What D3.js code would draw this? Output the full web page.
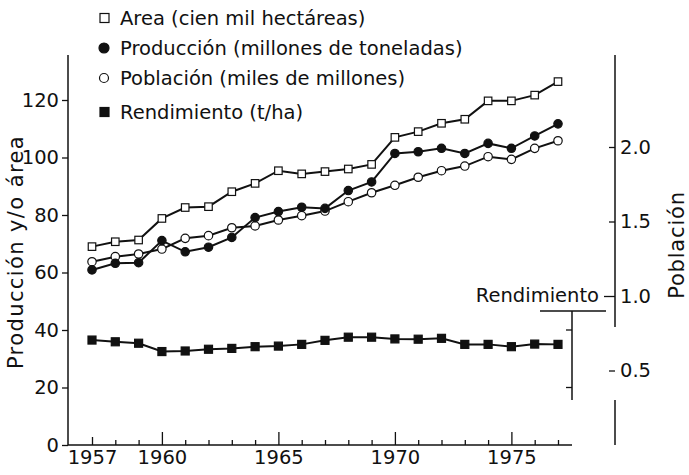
<!DOCTYPE html>
<html>
<head>
<meta charset="utf-8">
<script src="https://cdn.jsdelivr.net/npm/d3@7"></script>
<style>
  body { margin: 0; background: #fff; }
  svg text { font-family: "DejaVu Sans", sans-serif; fill: #111; }
</style>
</head>
<body>
<div id="chart"></div>
<script>
// --- Data ---
const years = d3.range(1957, 1978);
const area = [69.0, 70.7, 71.3, 78.8, 82.6, 82.9, 88.1, 91.0, 95.4, 94.3, 95.1,
  96.0, 97.6, 107.0, 109.0, 111.9, 113.3, 119.7, 119.7, 121.7, 126.4];
const produccion = [60.9, 63.2, 63.4, 71.1, 67.2, 68.8, 72.2, 79.1, 81.2, 82.7, 82.3,
  88.5, 91.5, 101.4, 102.0, 103.2, 101.4, 104.9, 103.2, 107.5, 111.7];
const poblacion = [1.23, 1.264, 1.282, 1.315, 1.387, 1.405, 1.458, 1.47, 1.51, 1.539, 1.57,
  1.633, 1.693, 1.743, 1.797, 1.841, 1.872, 1.935, 1.917, 1.991, 2.042];
// yield drawn in left-axis units
const rendimiento = [36.5, 35.9, 35.4, 32.5, 32.7, 33.3, 33.6, 34.2, 34.4, 35.0, 36.4,
  37.5, 37.5, 36.9, 36.8, 37.1, 35.0, 35.0, 34.2, 35.1, 35.0];

const leftTicks = [0, 20, 40, 60, 80, 100, 120];
const rightTicks = [0.5, 1.0, 1.5, 2.0];
const yearLabels = [1957, 1960, 1965, 1970, 1975];
const majorYears = [1960, 1965, 1970, 1975];
const rendTicks = [20, 40];

const legendItems = [
  { label: "Area (cien mil hectáreas)", shape: "square", filled: false },
  { label: "Producción (millones de toneladas)", shape: "circle", filled: true },
  { label: "Población (miles de millones)", shape: "circle", filled: false },
  { label: "Rendimiento (t/ha)", shape: "square", filled: true }
];

// --- Setup ---
const width = 689, height = 475;
const svg = d3.select("#chart").append("svg")
  .attr("width", width)
  .attr("height", height);

const x = d3.scaleLinear().domain([1957, 1977]).range([92, 558]);
const yL = d3.scaleLinear().domain([0, 120]).range([445, 100]);
const yR = d3.scaleLinear().domain([0, 2]).range([445, 147]);

const ink = "#111";
const tickFont = 19.5;

// --- Axes ---
// left axis
const leftAxis = svg.append("g")
  .attr("transform", "translate(68,0)")
  .call(d3.axisLeft(yL).tickValues(leftTicks).tickSize(6).tickPadding(3));
leftAxis.select(".domain").remove();
leftAxis.selectAll("line").attr("stroke", ink).attr("stroke-width", 1.3);
leftAxis.selectAll("text").attr("font-size", tickFont).style("font-family", "DejaVu Sans");
svg.append("line")
  .attr("x1", 68).attr("x2", 68)
  .attr("y1", 55).attr("y2", 445)
  .attr("stroke", ink).attr("stroke-width", 1.5);

// bottom axis
const bottomAxis = svg.append("g")
  .attr("transform", "translate(0,445)")
  .call(d3.axisBottom(x).tickValues(years)
    .tickSize(-5).tickPadding(5)
    .tickFormat(d => yearLabels.includes(d) ? d : ""));
bottomAxis.select(".domain").remove();
bottomAxis.selectAll(".tick line")
  .attr("stroke", ink).attr("stroke-width", 1.3)
  .attr("y2", d => majorYears.includes(d) ? -13 : (d === 1957 ? -8 : -5));
bottomAxis.selectAll("text").attr("font-size", tickFont).style("font-family", "DejaVu Sans");
svg.append("line")
  .attr("x1", 68).attr("x2", 572)
  .attr("y1", 445).attr("y2", 445)
  .attr("stroke", ink).attr("stroke-width", 1.5);

// right axis (population)
const rightAxis = svg.append("g")
  .attr("transform", "translate(615,0)")
  .call(d3.axisRight(yR).tickValues(rightTicks)
    .tickSize(-6).tickPadding(5)
    .tickFormat(d3.format(".1f")));
rightAxis.select(".domain").remove();
rightAxis.selectAll(".tick line")
  .attr("stroke", ink).attr("stroke-width", 1.3)
  .attr("x2", d => d === 1.0 ? -11 : -6);
rightAxis.selectAll("text").attr("font-size", tickFont).style("font-family", "DejaVu Sans");
[[55, 327], [400, 445]].forEach(([a, b]) => {
  svg.append("line")
    .attr("x1", 615).attr("x2", 615)
    .attr("y1", a).attr("y2", b)
    .attr("stroke", ink).attr("stroke-width", 1.5);
});

// yield sub-axis
svg.append("line")
  .attr("x1", 540).attr("x2", 606)
  .attr("y1", 311).attr("y2", 311)
  .attr("stroke", ink).attr("stroke-width", 1.5);
svg.append("line")
  .attr("x1", 572).attr("x2", 572)
  .attr("y1", 311).attr("y2", 400)
  .attr("stroke", ink).attr("stroke-width", 1.5);
svg.selectAll(".rend-tick")
  .data(rendTicks)
  .enter().append("line")
  .attr("class", "rend-tick")
  .attr("x1", 566).attr("x2", 572)
  .attr("y1", d => yL(d)).attr("y2", d => yL(d))
  .attr("stroke", ink).attr("stroke-width", 1.3);
svg.append("text")
  .attr("x", 599).attr("y", 302)
  .attr("text-anchor", "end")
  .attr("font-size", 19.5)
  .text("Rendimiento");

// axis titles
svg.append("text")
  .attr("transform", "translate(23,252) rotate(-90)")
  .attr("text-anchor", "middle")
  .attr("font-size", 21)
  .attr("letter-spacing", 1.4)
  .text("Producción y/o área");
svg.append("text")
  .attr("transform", "translate(684,245) rotate(-90)")
  .attr("text-anchor", "middle")
  .attr("font-size", 21)
  .attr("letter-spacing", 0.8)
  .text("Población");

// --- Series ---
function drawSeries(values, yScale, shape, filled) {
  const pts = years.map((yr, i) => [x(yr), yScale(values[i])]);
  svg.append("path")
    .attr("d", d3.line()(pts))
    .attr("fill", "none")
    .attr("stroke", ink)
    .attr("stroke-width", 2);
  const g = svg.append("g");
  if (shape === "circle") {
    g.selectAll("circle").data(pts).enter().append("circle")
      .attr("cx", d => d[0]).attr("cy", d => d[1])
      .attr("r", 4.2)
      .attr("fill", filled ? ink : "#fff")
      .attr("stroke", ink).attr("stroke-width", 1.2);
  } else {
    const s = filled ? 8 : 7.5;
    g.selectAll("rect").data(pts).enter().append("rect")
      .attr("x", d => d[0] - s / 2).attr("y", d => d[1] - s / 2)
      .attr("width", s).attr("height", s)
      .attr("fill", filled ? ink : "#fff")
      .attr("stroke", ink).attr("stroke-width", 1.2);
  }
}

drawSeries(rendimiento, yL, "square", true);
drawSeries(poblacion, yR, "circle", false);
drawSeries(produccion, yL, "circle", true);
drawSeries(area, yL, "square", false);

// --- Legend ---
const legendY = [18, 48, 78, 112];
const legend = svg.append("g");
legendItems.forEach((item, i) => {
  const cy = legendY[i];
  if (item.shape === "circle") {
    legend.append("circle")
      .attr("cx", 104).attr("cy", cy)
      .attr("r", item.filled ? 5 : 4.5)
      .attr("fill", item.filled ? ink : "#fff")
      .attr("stroke", ink).attr("stroke-width", 1.2);
  } else {
    legend.append("rect")
      .attr("x", 100).attr("y", cy - 4.5)
      .attr("width", 9).attr("height", 9)
      .attr("fill", item.filled ? ink : "#fff")
      .attr("stroke", ink).attr("stroke-width", 1.2);
  }
  legend.append("text")
    .attr("x", 120).attr("y", cy)
    .attr("dy", "0.35em")
    .attr("font-size", 19.5)
    .text(item.label);
});
</script>
</body>
</html>
